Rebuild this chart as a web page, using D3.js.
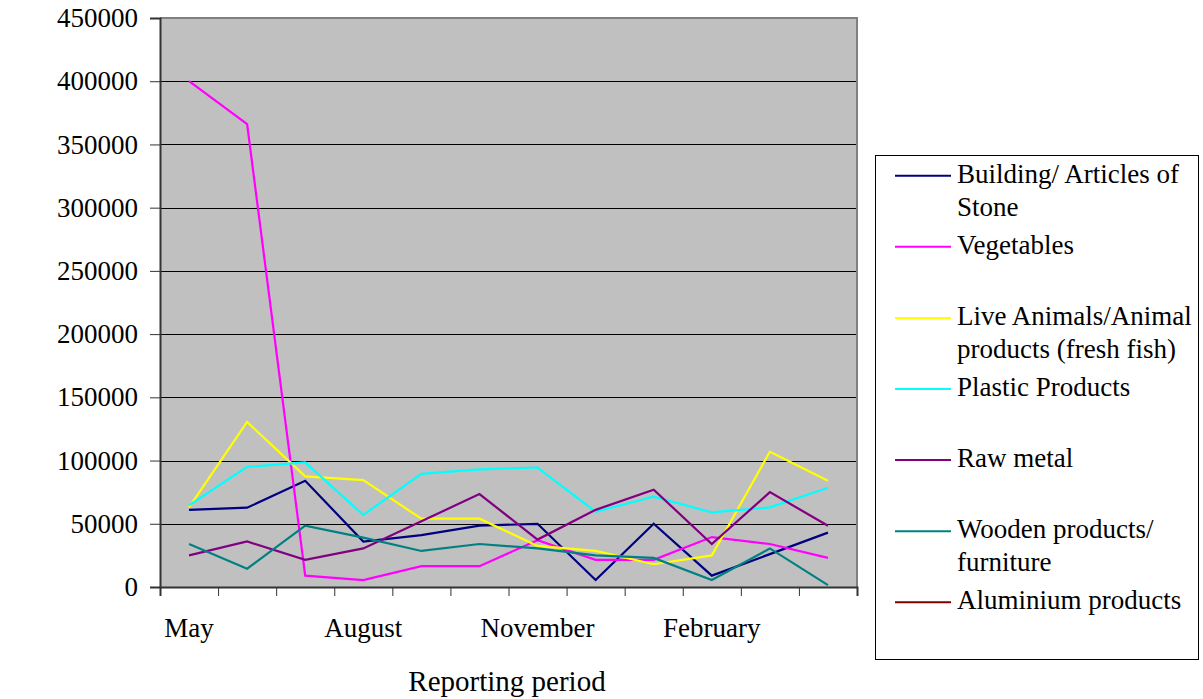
<!DOCTYPE html>
<html>
<head>
<meta charset="utf-8">
<script src="https://cdn.jsdelivr.net/npm/d3@7"></script>
<style>
  html, body { margin: 0; padding: 0; background: #ffffff; }
  svg { display: block; }
  svg text { font-family: "Liberation Serif", "Tinos", "Times New Roman", "DejaVu Serif", serif !important; fill: #000; }
</style>
</head>
<body>
<svg id="chart" width="1203" height="699"></svg>
<script>
// ---- data ----
const months = ["May","June","July","August","September","October","November","December","January","February","March","April"];
const shownMonths = ["May","August","November","February"];
const yTicks = [0,50000,100000,150000,200000,250000,300000,350000,400000,450000];

const building    = [61000, 62700, 84000, 36000, 41000, 48500, 50000, 5500, 50000, 9000, 26000, 43000];
const vegetables  = [400000, 366000, 9000, 5500, 16500, 16500, 37000, 21500, 21500, 39500, 34000, 23000];
const liveAnimals = [63000, 130500, 87500, 84500, 54000, 54000, 32500, 28500, 18000, 25000, 107000, 84000];
const plastic     = [64500, 95000, 98500, 57000, 89500, 93000, 94500, 59500, 71500, 59000, 63000, 78500];
const rawMetal    = [25000, 36000, 21500, 30500, 52000, 73500, 37500, 61000, 77000, 34000, 75000, 48500];
const wooden      = [34000, 14500, 48500, 39000, 28500, 34000, 30500, 25000, 23000, 5500, 30500, 1500];
const aluminium   = [null, null, null, null, null, null, null, null, null, null, null, null];

const seriesNames = [
  ["Building/ Articles of", "Stone"],
  ["Vegetables"],
  ["Live Animals/Animal", "products (fresh fish)"],
  ["Plastic Products"],
  ["Raw metal"],
  ["Wooden products/", "furniture"],
  ["Aluminium products"]
];
const seriesColors = ["#000080", "#ff00ff", "#ffff00", "#00ffff", "#800080", "#008080", "#800000"];
const seriesValues = [building, vegetables, liveAnimals, plastic, rawMetal, wooden, aluminium];

// ---- layout ----
const FONT = "'Liberation Serif', 'Tinos', 'Times New Roman', 'DejaVu Serif', serif";
const svg = d3.select("#chart").attr("font-family", FONT);
const plot = { left: 160, right: 857, top: 18, bottom: 587 };

const x = d3.scaleBand().domain(months).range([plot.left, plot.right]).padding(0);
const xEdge = d3.scaleLinear().domain([0, months.length]).range([plot.left, plot.right]);
const y = d3.scaleLinear().domain([0, 450000]).range([plot.bottom, plot.top]);

// plot background
svg.append("rect")
  .attr("x", plot.left).attr("y", plot.top)
  .attr("width", plot.right - plot.left).attr("height", plot.bottom - plot.top)
  .attr("fill", "#c0c0c0");

// gridlines
svg.append("g")
  .selectAll("line")
  .data(yTicks.filter(d => d > 0 && d < 450000))
  .join("line")
  .attr("x1", plot.left).attr("x2", plot.right)
  .attr("y1", d => Math.round(y(d)) + 0.5).attr("y2", d => Math.round(y(d)) + 0.5)
  .attr("stroke", "#000").attr("stroke-width", 1);

// plot border (top/right)
svg.append("path")
  .attr("d", `M${plot.left},${plot.top}H${plot.right}V${plot.bottom}`)
  .attr("fill", "none").attr("stroke", "#808080").attr("stroke-width", 2);

// lines
const line = d3.line()
  .defined(d => d.v != null)
  .x(d => x(d.m) + x.bandwidth() / 2)
  .y(d => y(d.v));

seriesValues.forEach((vals, i) => {
  svg.append("path")
    .datum(months.map((m, j) => ({ m, v: vals[j] })))
    .attr("d", line)
    .attr("fill", "none")
    .attr("stroke", seriesColors[i])
    .attr("stroke-width", 2.2)
    .attr("stroke-linejoin", "miter");
});

// y axis
const yAxis = d3.axisLeft(y).tickValues(yTicks).tickSize(10).tickPadding(12).tickFormat(d3.format("d"));
const gy = svg.append("g").attr("transform", `translate(${plot.left},0)`).call(yAxis)
  .attr("font-family", FONT);
gy.select(".domain").attr("stroke", "#333").attr("stroke-width", 2);
gy.selectAll(".tick line").attr("stroke", "#333");
gy.selectAll(".tick text")
  .style("font-size", "27px")
  .attr("fill", "#000");

// x axis: ticks at category boundaries
const xAxis = d3.axisBottom(xEdge).tickValues(d3.range(months.length + 1)).tickSize(9).tickFormat("");
const gx = svg.append("g").attr("transform", `translate(0,${plot.bottom})`).call(xAxis);
gx.select(".domain").attr("stroke", "#333").attr("stroke-width", 2);
gx.selectAll(".tick line").attr("stroke", "#333");

// x labels (every third month)
svg.append("g")
  .selectAll("text")
  .data(shownMonths)
  .join("text")
  .attr("x", d => x(d) + x.bandwidth() / 2)
  .attr("y", 637)
  .attr("text-anchor", "middle")
  .style("font-size", "27px")
  .text(d => d);

// axis titles
svg.append("text")
  .attr("x", 507).attr("y", 691)
  .attr("text-anchor", "middle")
  .style("font-size", "29px")
  .text("Reporting period");

svg.append("clipPath").attr("id", "ytclip")
  .append("rect").attr("x", 0).attr("y", 222).attr("width", 60).attr("height", 300);

svg.append("text")
  .attr("clip-path", "url(#ytclip)")
  .attr("transform", "translate(33,375) rotate(-90)")
  .attr("text-anchor", "start")
  .style("font-size", "29px")
  .text("Value (EUR)");

// legend
const legend = { x: 875.5, y: 155.5, w: 323, h: 504 };
svg.append("rect")
  .attr("x", legend.x).attr("y", legend.y)
  .attr("width", legend.w).attr("height", legend.h)
  .attr("fill", "#ffffff").attr("stroke", "#000").attr("stroke-width", 1);

const legendRowY = d3.scaleLinear().domain([0, 6]).range([175.7, 602.3]);
const lg = svg.append("g").selectAll("g").data(seriesNames).join("g")
  .attr("transform", (d, i) => `translate(0,${legendRowY(i)})`);
lg.append("line")
  .attr("x1", 895).attr("x2", 951).attr("y1", 0).attr("y2", 0)
  .attr("stroke", (d, i) => seriesColors[i]).attr("stroke-width", 2);
lg.append("text")
  .attr("x", 957)
  .attr("y", 7)
  .style("font-size", "27px")
  .selectAll("tspan").data(d => d).join("tspan")
  .attr("x", 957)
  .attr("dy", (d, k) => k === 0 ? 0 : 33)
  .text(d => d);
</script>
</body>
</html>
